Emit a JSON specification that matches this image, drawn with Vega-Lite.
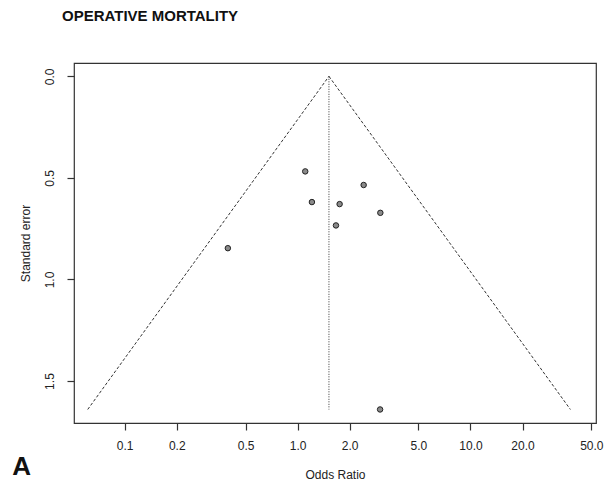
{
  "$schema": "https://vega.github.io/schema/vega-lite/v6.json",
  "autosize": "none",
  "width": 522,
  "height": 360,
  "padding": {"left": 74, "top": 63, "right": 17, "bottom": 64},
  "background": "white",
  "config": {
    "font": "Liberation Sans",
    "view": {"stroke": "#333", "strokeWidth": 1.2},
    "axis": {
      "grid": false,
      "domain": false,
      "ticks": true,
      "tickColor": "#333",
      "tickSize": 7,
      "tickWidth": 1.2,
      "labelFont": "Liberation Sans",
      "labelFontSize": 12,
      "labelColor": "#222",
      "titleFont": "Liberation Sans",
      "titleFontSize": 12,
      "titleFontWeight": "normal",
      "titleColor": "#222"
    }
  },
  "title": {
    "text": "OPERATIVE MORTALITY",
    "anchor": "start",
    "frame": "group",
    "dx": -12,
    "offset": 27,
    "baseline": "alphabetic",
    "font": "Liberation Sans",
    "fontSize": 15,
    "fontWeight": "bold",
    "color": "#111"
  },
  "datasets": {
    "studies": [
      {"or": 1.107, "se": 0.468},
      {"or": 1.21, "se": 0.619},
      {"or": 0.395, "se": 0.846},
      {"or": 2.41, "se": 0.535},
      {"or": 1.75, "se": 0.629},
      {"or": 3.01, "se": 0.672},
      {"or": 1.667, "se": 0.734},
      {"or": 3.0, "se": 1.64}
    ],
    "funnel": [
      {"side": "lower", "or": 1.518, "se": 0},
      {"side": "lower", "or": 0.0611, "se": 1.64},
      {"side": "upper", "or": 1.518, "se": 0},
      {"side": "upper", "or": 37.83, "se": 1.64}
    ],
    "pooled": [
      {"or": 1.518, "se": 0, "se_end": 1.64}
    ],
    "panel": [
      {"or": 0.02534, "se": 1.9626, "label": "A"}
    ]
  },
  "encoding": {
    "x": {
      "field": "or",
      "type": "quantitative",
      "scale": {"type": "log", "domain": [0.0509, 53.2], "nice": false, "zero": false},
      "axis": {
        "title": "Odds Ratio",
        "values": [0.1, 0.2, 0.5, 1, 2, 5, 10, 20, 50],
        "format": ".1f",
        "labelPadding": 10,
        "titlePadding": 18,
        "labelFlush": false,
        "labelOverlap": false
      }
    },
    "y": {
      "field": "se",
      "type": "quantitative",
      "scale": {"domain": [-0.0656, 1.7066], "reverse": true, "nice": false, "zero": false},
      "axis": {
        "title": "Standard error",
        "values": [0, 0.5, 1, 1.5],
        "format": ".1f",
        "labelAngle": 270,
        "labelAlign": "center",
        "labelBaseline": "bottom",
        "labelPadding": 11,
        "titlePadding": 11,
        "labelFlush": false,
        "labelOverlap": false
      }
    }
  },
  "layer": [
    {
      "data": {"name": "funnel"},
      "mark": {"type": "line", "color": "#333", "strokeWidth": 1, "strokeDash": [3, 2]},
      "encoding": {"detail": {"field": "side"}}
    },
    {
      "data": {"name": "pooled"},
      "mark": {"type": "rule", "color": "#333", "strokeWidth": 1, "strokeDash": [1, 1.5]},
      "encoding": {"y2": {"field": "se_end"}}
    },
    {
      "data": {"name": "studies"},
      "mark": {"type": "point", "shape": "circle", "filled": true, "size": 30, "fill": "#8a8a8a", "stroke": "#222", "strokeWidth": 1, "opacity": 1}
    },
    {
      "data": {"name": "panel"},
      "mark": {"type": "text", "font": "Liberation Sans", "fontSize": 26, "fontWeight": "bold", "color": "#111", "align": "center", "baseline": "alphabetic", "clip": false},
      "encoding": {"text": {"field": "label"}}
    }
  ]
}
